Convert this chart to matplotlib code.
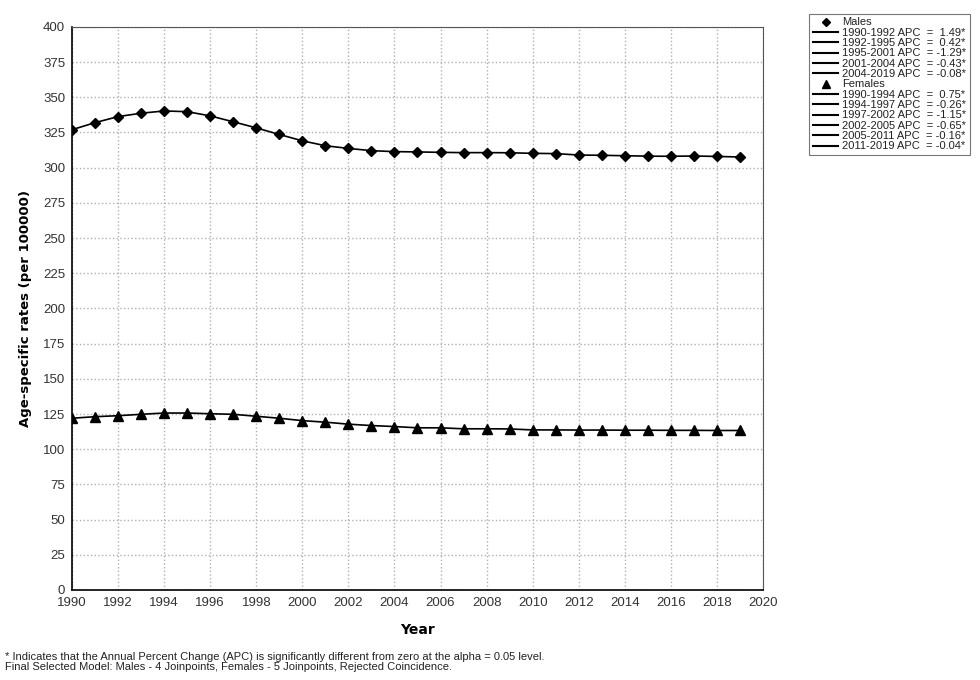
import matplotlib
matplotlib.use("Agg")
import matplotlib.pyplot as plt
from matplotlib.lines import Line2D
import numpy as np

# data
years = np.arange(1990, 2020)
males = [327, 332, 336.3, 338.7, 340.3, 339.8, 336.8, 332.6, 328.3, 323.6,
         319.1, 315.6, 313.7, 312.1, 311.4, 311.2, 310.9, 310.7, 310.7, 310.6,
         310.2, 310.0, 309.0, 308.8, 308.5, 308.2, 308.1, 308.3, 308.0, 307.6]
females = [122.0, 123.1, 123.8, 124.8, 125.7, 125.7, 125.2, 124.8, 123.4, 122.0,
           120.3, 119.2, 117.8, 116.8, 116.1, 115.2, 115.2, 114.5, 114.5, 114.4,
           113.7, 113.7, 113.6, 113.6, 113.5, 113.5, 113.4, 113.4, 113.3, 113.3]

male_segments = ["1990-1992 APC  =  1.49*", "1992-1995 APC  =  0.42*",
                 "1995-2001 APC  = -1.29*", "2001-2004 APC  = -0.43*",
                 "2004-2019 APC  = -0.08*"]
female_segments = ["1990-1994 APC  =  0.75*", "1994-1997 APC  = -0.26*",
                   "1997-2002 APC  = -1.15*", "2002-2005 APC  = -0.65*",
                   "2005-2011 APC  = -0.16*", "2011-2019 APC  = -0.04*"]

footnote = ("* Indicates that the Annual Percent Change (APC) is significantly different from zero at the alpha = 0.05 level.\n"
            "Final Selected Model: Males - 4 Joinpoints, Females - 5 Joinpoints, Rejected Coincidence.")

plt.rcParams['font.family'] = ['Liberation Sans', 'DejaVu Sans']

fig = plt.figure(figsize=(9.8, 6.8), dpi=100)
ax = fig.add_axes([0.0735, 0.1324, 0.705, 0.828])

ax.plot(years, males, color='black', lw=1.2, marker='D', ms=5.5, zorder=3)
ax.plot(years, females, color='black', lw=1.2, marker='^', ms=7, zorder=3)

ax.set_xlim(1990, 2020)
ax.set_ylim(0, 400)
ax.set_xticks(np.arange(1990, 2021, 2))
ax.set_yticks(np.arange(0, 401, 25))
ax.tick_params(labelsize=9.5, labelcolor='#333333', length=0, pad=5)
ax.grid(True, color='#b0b0b0', linestyle=':', linewidth=1)
ax.set_axisbelow(True)
for s in ['top', 'right']:
    ax.spines[s].set_color('#555555')
for s in ['left', 'bottom']:
    ax.spines[s].set_color('black')
    ax.spines[s].set_linewidth(1.2)

ax.set_xlabel('Year', fontsize=10, fontweight='bold', family='DejaVu Sans', labelpad=10)
ax.set_ylabel('Age-specific rates (per 100000)', fontsize=9.5, fontweight='bold',
              family='DejaVu Sans', labelpad=8)

handles = [Line2D([], [], color='black', marker='D', ms=4.5, ls='none')]
handles += [Line2D([], [], color='black', lw=1.5) for _ in male_segments]
handles += [Line2D([], [], color='black', marker='^', ms=5.5, ls='none')]
handles += [Line2D([], [], color='black', lw=1.5) for _ in female_segments]
labels = ['Males'] + male_segments + ['Females'] + female_segments

leg = fig.legend(handles, labels, loc='upper left', bbox_to_anchor=(0.826, 0.98),
                 fontsize=8, frameon=True, fancybox=False, edgecolor='#555555',
                 labelspacing=0.03, handlelength=2.2, handletextpad=0.4,
                 borderpad=0.35, borderaxespad=0)
leg.get_frame().set_linewidth(0.8)
for t in leg.get_texts():
    t.set_color('#222222')

fig.text(0.005, 0.012, footnote, fontsize=8, color='#222222', ha='left', va='bottom',
         linespacing=1.0)

fig.savefig('out.png', dpi=100)
